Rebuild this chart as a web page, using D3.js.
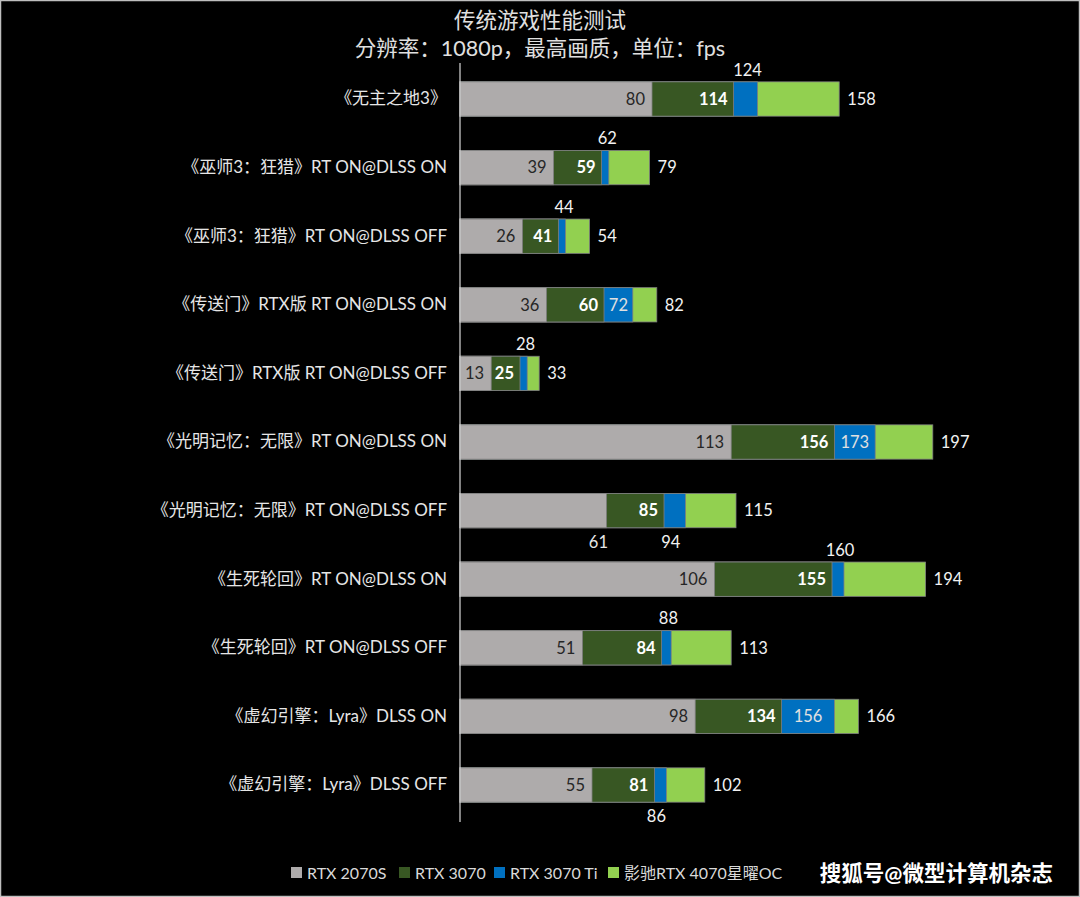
<!DOCTYPE html>
<html><head><meta charset="utf-8">
<script src="https://cdn.jsdelivr.net/npm/d3@7"></script>
<style>
html,body{margin:0;padding:0;background:#000;}
svg{display:block;}
text{font-family:"Lato","Noto Sans CJK SC",sans-serif;}
</style></head>
<body>
<svg id="chart" width="1080" height="897"></svg>
<script>
const categories = [
  "《无主之地3》",
  "《巫师3：狂猎》RT ON@DLSS ON",
  "《巫师3：狂猎》RT ON@DLSS OFF",
  "《传送门》RTX版 RT ON@DLSS ON",
  "《传送门》RTX版 RT ON@DLSS OFF",
  "《光明记忆：无限》RT ON@DLSS ON",
  "《光明记忆：无限》RT ON@DLSS OFF",
  "《生死轮回》RT ON@DLSS ON",
  "《生死轮回》RT ON@DLSS OFF",
  "《虚幻引擎：Lyra》DLSS ON",
  "《虚幻引擎：Lyra》DLSS OFF"
];
const seriesNames = ["RTX 2070S", "RTX 3070", "RTX 3070 Ti", "影驰RTX 4070星曜OC"];
const rtx2070s  = [80, 39, 26, 36, 13, 113, 61, 106, 51, 98, 55];
const rtx3070   = [114, 59, 41, 60, 25, 156, 85, 155, 84, 134, 81];
const rtx3070ti = [124, 62, 44, 72, 28, 173, 94, 160, 88, 156, 86];
const rtx4070   = [158, 79, 54, 82, 33, 197, 115, 194, 113, 166, 102];
// label placement for RTX 3070 Ti and RTX 2070S values
const tiLabelPos   = ["above","above","above","inside","above","inside","below","above","above","inside","below"];
const grayLabelPos = ["inside","inside","inside","inside","inside","inside","below","inside","inside","inside","inside"];

const colors = ["#AEABAB", "#385723", "#0070C0", "#92D050"];

const W = 1080, H = 897;
const svg = d3.select("#chart");
svg.append("rect").attr("x",0).attr("y",0).attr("width",W).attr("height",H).attr("fill","#000");
svg.append("rect").attr("x",0.5).attr("y",0.5).attr("width",W-1).attr("height",H-1)
  .attr("fill","none").attr("stroke","#bfbfbf").attr("stroke-width",1.5);

const x0 = 460;
const x = d3.scaleLinear().domain([0, 100]).range([x0, x0 + 240]);
const y = d3.scaleBand().domain(categories).range([64.7, 819.3]).paddingInner(0.5).paddingOuter(0.25);

// titles
svg.append("text").attr("x",540).attr("y",28).attr("text-anchor","middle")
  .attr("fill","#e0e0e0").attr("font-size",21.5).text("传统游戏性能测试");
svg.append("text").attr("x",540).attr("y",56).attr("text-anchor","middle")
  .attr("fill","#e0e0e0").attr("font-size",21.5).text("分辨率：1080p，最高画质，单位：fps");

const series = [rtx2070s, rtx3070, rtx3070ti, rtx4070];
const bh = y.bandwidth();

// bars: largest first (overlapping from zero)
for (let s = 3; s >= 0; s--) {
  svg.append("g").selectAll("rect").data(categories).join("rect")
    .attr("x", x(0))
    .attr("y", d => y(d))
    .attr("width", (d,i) => x(series[s][i]) - x(0))
    .attr("height", bh)
    .attr("fill", colors[s])
    .attr("stroke", "#7f7f7f").attr("stroke-width", 0.8);
}

// axis line
const yAxis = d3.axisLeft(y).tickSize(0).tickPadding(13);
const ag = svg.append("g").attr("transform", `translate(${x0},0)`).call(yAxis);
ag.select(".domain").attr("stroke","#d9d9d9").attr("stroke-width",1.2);
ag.selectAll(".tick text").attr("fill","#e6e6e6").attr("font-size",17)
  .style("font-family",'"Lato","Noto Sans CJK SC",sans-serif');
ag.select(".domain").attr("d", `M0,63V822`);

const lbl = svg.append("g").attr("font-size",16.5);
categories.forEach((c,i) => {
  const cy = y(c) + bh/2;
  // gray
  if (grayLabelPos[i] === "inside") {
    lbl.append("text").attr("x", x(rtx2070s[i]) - 7).attr("y", cy).attr("dy","0.35em")
      .attr("text-anchor","end").attr("fill","#262626").text(rtx2070s[i]);
  } else {
    lbl.append("text").attr("x", x(rtx2070s[i]) - 8).attr("y", y(c) + bh + 14).attr("dy","0.35em")
      .attr("text-anchor","middle").attr("fill","#e6e6e6").text(rtx2070s[i]);
  }
  // 3070 bold white
  lbl.append("text").attr("x", x(rtx3070[i]) - 6).attr("y", cy).attr("dy","0.35em")
    .attr("text-anchor","end").attr("fill","#fff").attr("font-weight","bold").text(rtx3070[i]);
  // 3070 Ti
  const mid = (x(rtx3070[i]) + x(rtx3070ti[i])) / 2;
  let ty = cy, tx = mid, fill = "#f2f2f2";
  if (tiLabelPos[i] === "above") { ty = y(c) - 12; tx = mid + 2; }
  else if (tiLabelPos[i] === "below") { ty = y(c) + bh + 14; tx = mid - 4; }
  else { fill = "#e0e0e0"; }
  lbl.append("text").attr("x", tx).attr("y", ty).attr("dy","0.35em")
    .attr("text-anchor","middle").attr("fill",fill).text(rtx3070ti[i]);
  // 4070
  lbl.append("text").attr("x", x(rtx4070[i]) + 8).attr("y", cy).attr("dy","0.35em")
    .attr("text-anchor","start").attr("fill","#f2f2f2").text(rtx4070[i]);
});

// legend
const legendX = [291, 399, 494, 608];
const lg = svg.append("g");
seriesNames.forEach((n,i) => {
  lg.append("rect").attr("x", legendX[i]).attr("y", 867).attr("width", 11).attr("height", 11).attr("fill", colors[i]);
  lg.append("text").attr("x", legendX[i] + 16).attr("y", 873).attr("dy","0.35em")
    .attr("fill","#d9d9d9").attr("font-size",16).text(n);
});
svg.append("text").attr("x", 1053).attr("y", 873).attr("dy","0.35em").attr("text-anchor","end")
  .attr("fill","#fff").attr("font-size",21.5).attr("font-weight","bold").text("搜狐号@微型计算机杂志");
</script>
</body></html>
